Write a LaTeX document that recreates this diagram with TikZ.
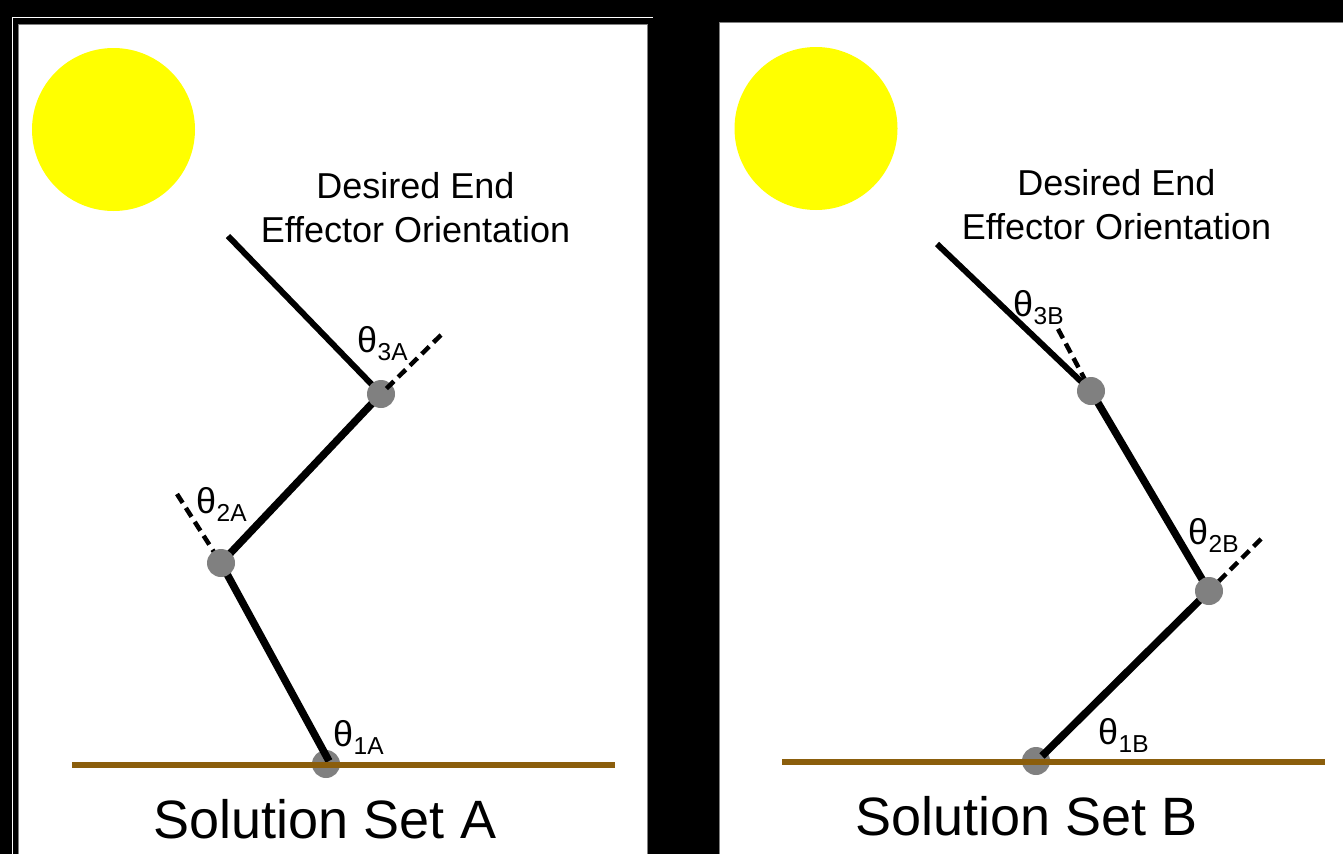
\documentclass[tikz,border=0pt]{standalone}
\usepackage{fontspec}
\setmainfont{Liberation Sans}
\pgfdeclarelayer{panels}
\pgfdeclarelayer{links}
\pgfdeclarelayer{top}
\pgfsetlayers{panels,links,main,top}
\definecolor{groundbrown}{RGB}{139,94,12}
\definecolor{sunyellow}{RGB}{255,255,0}
\definecolor{jointgrey}{RGB}{128,128,128}
\newcommand{\angl}[2]{\fontsize{36}{36}\selectfont θ\kern0.5pt\raisebox{-8.5pt}{\fontsize{24.5}{24.5}\selectfont #1#2}}
\tikzset{
  x=1pt,y=-1pt,
  joint/.style={circle,fill=jointgrey,minimum size=28pt,inner sep=0pt},
  sun/.style={circle,fill=sunyellow,minimum size=163pt,inner sep=0pt},
  link/.style={line width=7.5pt,black},
  endlink/.style={line width=6pt,black},
  refline/.style={line width=4.5pt,black,dash pattern=on 10.5pt off 6pt},
  ground/.style={line width=6.5pt,groundbrown},
  caption/.style={anchor=base,inner sep=0pt,font=\fontsize{54}{54}\selectfont},
  note/.style={anchor=base,inner sep=0pt,font=\fontsize{36}{36}\selectfont},
  anglelabel/.style={anchor=base west,inner sep=0pt},
}
\begin{document}
\begin{tikzpicture}
\useasboundingbox (0,0) rectangle (1343,854);
\begin{pgfonlayer}{panels}
  \fill[black] (0,0) rectangle (1343,854);
  \draw[white,line width=1.5pt] (12.5,854) -- (12.5,17.7) -- (653,17.7);
  \draw[fill=white,draw=jointgrey,line width=1pt] (18.5,854) -- (18.5,24.5) -- (647.5,24.5) -- (647.5,854);
  \draw[fill=white,draw=jointgrey,line width=1pt] (719.5,854) -- (719.5,22.5) -- (1343,22.5) -- (1343,854);
  \node[joint] (a1) at (326,764) {};
  \node[joint] (b1) at (1036,761) {};
\end{pgfonlayer}

% Solution set A
\node[sun] (sunA) at (113.5,129.5) {};
\node[joint] (a2) at (221,563) {};
\node[joint] (a3) at (381,394) {};
\coordinate (a4) at (228,236);
\coordinate (a1top) at (329,761);
\coordinate (a2ref) at (177,494);
\coordinate (a3ref) at (441,335);
\coordinate (a3refstart) at (386,389);
\coordinate (ga) at (72,765);
\coordinate (gb) at (615,765);
\node[note] (noteA1) at (415.5,198.5) {Desired End};
\node[note] (noteA2) at (415.5,242.5) {Effector Orientation};
\node[caption] (capA) at (325,838) {Solution Set A};
\node[anglelabel] (t1A) at (333,746) {\angl{1}{A}};
\node[anglelabel] (t2A) at (196,513) {\angl{2}{A}};
\node[anglelabel] (t3A) at (357,352) {\angl{3}{A}};

% Solution set B
\node[sun] (sunB) at (816,128.5) {};
\node[joint] (b2) at (1209,591) {};
\node[joint] (b3) at (1091,391) {};
\coordinate (b4) at (937,244);
\coordinate (b1top) at (1042,756);
\coordinate (b2ref) at (1261,539);
\coordinate (b3ref) at (1058,329);
\coordinate (gc) at (782,762);
\coordinate (gd) at (1325,762);
\node[note] (noteB1) at (1116.5,195.5) {Desired End};
\node[note] (noteB2) at (1116.5,239.5) {Effector Orientation};
\node[caption] (capB) at (1026.5,835) {Solution Set B};
\node[anglelabel] (t1B) at (1098,744) {\angl{1}{B}};
\node[anglelabel] (t2B) at (1188,544) {\angl{2}{B}};
\node[anglelabel] (t3B) at (1013,316) {\angl{3}{B}};

\begin{pgfonlayer}{links}
  \draw[link] (a1top) -- (a2.center);
  \draw[link] (a2.center) -- (a3.center);
  \draw[endlink] (a3.center) -- (a4);
  \draw[refline] (a2ref) -- (a2.center);
  \draw[link] (b1top) -- (b2.center);
  \draw[link] (b2.center) -- (b3.center);
  \draw[endlink] (b3.center) -- (b4);
  \draw[refline] (b2ref) -- (b2.center);
  \draw[refline] (b3ref) -- (b3.center);
\end{pgfonlayer}
\begin{pgfonlayer}{top}
  \draw[refline] (a3ref) -- (a3refstart);
  \draw[ground] (ga) -- (gb);
  \draw[ground] (gc) -- (gd);
\end{pgfonlayer}
\end{tikzpicture}
\end{document}
